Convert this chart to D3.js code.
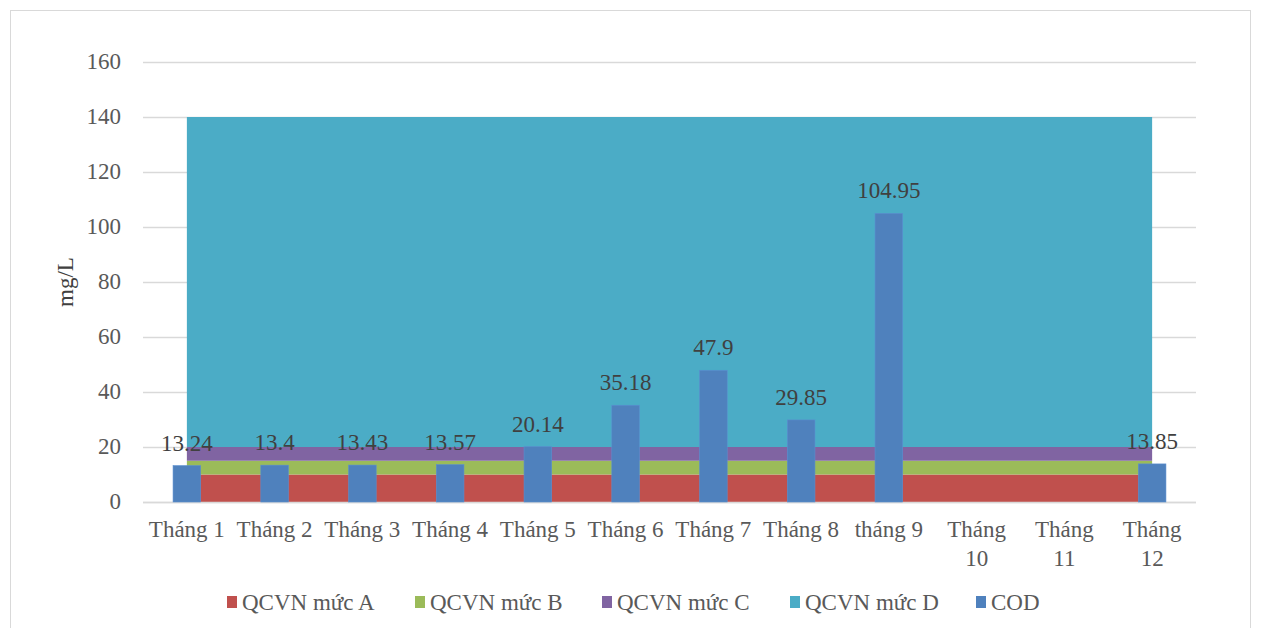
<!DOCTYPE html>
<html><head><meta charset="utf-8">
<script src="https://cdn.jsdelivr.net/npm/d3@7"></script>
<style>
body{margin:0;background:#fff;}
text{font-family:"Times New Roman","Liberation Serif",serif;}
</style></head>
<body><svg id="c" width="1261" height="628"></svg>
<script>
const categories = ["Tháng 1","Tháng 2","Tháng 3","Tháng 4","Tháng 5","Tháng 6","Tháng 7","Tháng 8","tháng 9","Tháng 10","Tháng 11","Tháng 12"];
const mucA = [10,10,10,10,10,10,10,10,10,10,10,10];
const mucB = [15,15,15,15,15,15,15,15,15,15,15,15];
const mucC = [20,20,20,20,20,20,20,20,20,20,20,20];
const mucD = [140,140,140,140,140,140,140,140,140,140,140,140];
const cod = [13.24,13.4,13.43,13.57,20.14,35.18,47.9,29.85,104.95,null,null,13.85];
const yTicks = [0,20,40,60,80,100,120,140,160];
const seriesNames = ["QCVN mức A","QCVN mức B","QCVN mức C","QCVN mức D","COD"];
const colors = ["#c0504d","#9bbb59","#8064a2","#4bacc6","#4f81bd"];

const svg = d3.select("#c");
// frame
svg.append("rect").attr("x",10.5).attr("y",10.5).attr("width",1240).attr("height",640)
  .attr("fill","#fff").attr("stroke","#d9d9d9").attr("stroke-width",1);

const x = d3.scaleBand().domain(categories).range([143,1196]).padding(0);
const y = d3.scaleLinear().domain([0,160]).range([502,62]);
const cx = c => x(c) + x.bandwidth()/2;

// gridlines
svg.append("g").selectAll("line").data(yTicks).join("line")
  .attr("x1",143).attr("x2",1196).attr("y1",d=>Math.round(y(d))+0.5).attr("y2",d=>Math.round(y(d))+0.5)
  .attr("stroke","#d9d9d9").attr("stroke-width",1.3);

// stacked areas
const levels = [mucA,mucB,mucC,mucD];
const bands = levels.map((arr,i)=>categories.map((c,j)=>({c, lo: i===0?0:levels[i-1][j], hi: arr[j]})));
const area = d3.area().x(d=>cx(d.c)).y0(d=>y(d.lo)).y1(d=>y(d.hi));
svg.append("g").selectAll("path").data(bands).join("path")
  .attr("d",area).attr("fill",(d,i)=>colors[i]);

// x axis baseline
svg.append("line").attr("x1",143).attr("x2",1196).attr("y1",502.5).attr("y2",502.5)
  .attr("stroke","#d9d9d9").attr("stroke-width",1.5);

// bars
const bw = x.bandwidth()*0.315;
const codData = categories.map((c,i)=>({c,v:cod[i]})).filter(d=>d.v!==null);
svg.append("g").selectAll("rect").data(codData).join("rect")
  .attr("x",d=>cx(d.c)-bw/2).attr("width",bw)
  .attr("y",d=>y(d.v)).attr("height",d=>y(0)-y(d.v))
  .attr("fill",colors[4]).attr("stroke","#5b8fd0").attr("stroke-width",0.6);

// labels
svg.append("g").selectAll("text").data(codData).join("text")
  .attr("x",d=>cx(d.c)).attr("y",d=>y(d.v)-15)
  .attr("text-anchor","middle").attr("font-size",23).attr("fill","#404040")
  .text(d=>d.v);

// y axis labels
svg.append("g").selectAll("text").data(yTicks).join("text")
  .attr("x",121).attr("y",d=>y(d)+7).attr("text-anchor","end")
  .attr("font-size",23).attr("fill","#595959").text(d=>d);

// y title
svg.append("text").attr("transform","translate(73,282) rotate(-90)")
  .attr("text-anchor","middle").attr("font-size",23).attr("fill","#404040").text("mg/L");

// x labels
categories.forEach(c=>{
  const parts = c.split(" ");
  const t = svg.append("text").attr("x",cx(c)).attr("y",537).attr("text-anchor","middle")
    .attr("font-size",23).attr("fill","#595959");
  if (+parts[1] >= 10) {
    t.append("tspan").attr("x",cx(c)).attr("dy",0).text(parts[0]);
    t.append("tspan").attr("x",cx(c)).attr("dy",29).text(parts[1]);
  } else t.text(c);
});

// legend
const lx = [227,415,602,790,976];
const lg = svg.append("g").selectAll("g").data(seriesNames).join("g")
  .attr("transform",(d,i)=>`translate(${lx[i]},0)`);
lg.append("rect").attr("x",0).attr("y",596).attr("width",10).attr("height",12).attr("fill",(d,i)=>colors[i]);
lg.append("text").attr("x",15).attr("y",610).attr("font-size",23).attr("fill","#595959").text(d=>d);
</script></body></html>
